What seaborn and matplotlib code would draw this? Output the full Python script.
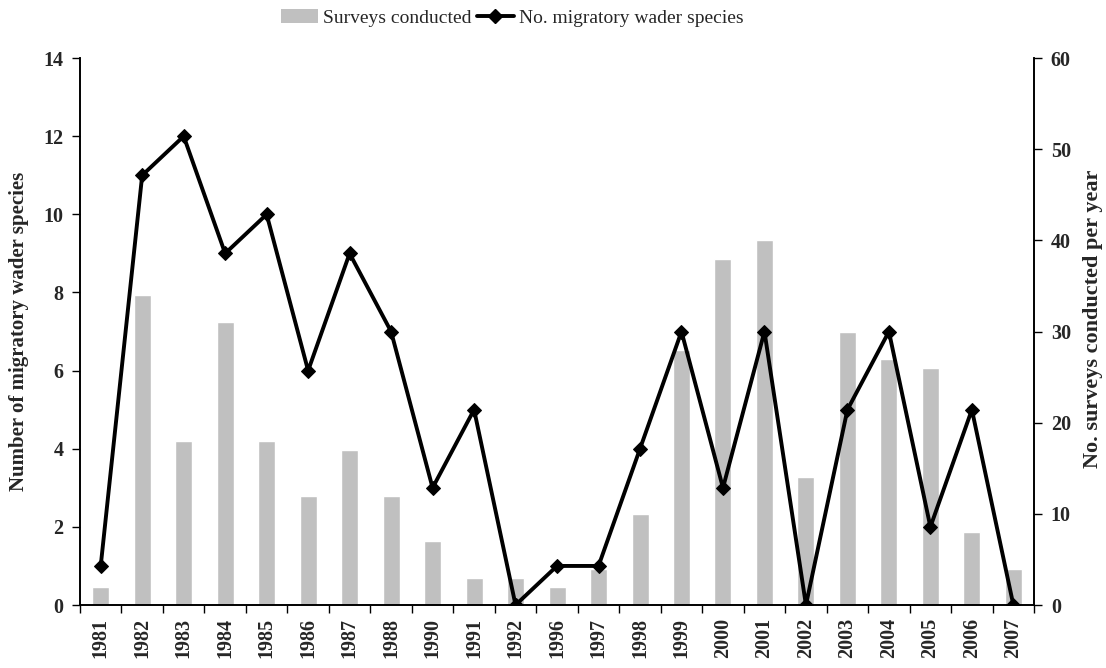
import matplotlib
matplotlib.use("Agg")
import matplotlib.pyplot as plt
import numpy as np
import pandas as pd
import seaborn as sns
from matplotlib.lines import Line2D
from matplotlib.patches import Patch

years = ["1981", "1982", "1983", "1984", "1985", "1986", "1987", "1988", "1990",
         "1991", "1992", "1996", "1997", "1998", "1999", "2000", "2001", "2002",
         "2003", "2004", "2005", "2006", "2007"]
surveys = [2, 34, 18, 31, 18, 12, 17, 12, 7, 3, 3, 2, 4, 10, 28, 38, 40, 14,
           30, 27, 26, 8, 4]
species = [1, 11, 12, 9, 10, 6, 9, 7, 3, 5, 0, 1, 1, 4, 7, 3, 7, 0, 5, 7, 2, 5, 0]

BAR_GREY = "#c0c0c0"


def main():
    sns.set_theme(style="white")
    plt.rcParams["font.family"] = ["Liberation Serif", "DejaVu Serif"]

    df = pd.DataFrame({"year": years, "surveys": surveys, "species": species})
    df["pos"] = np.arange(len(df))

    fig = plt.figure(figsize=(11.06, 6.68), dpi=100)
    ax = fig.add_axes([0.0723, 0.0943, 0.8627, 0.8187])
    ax2 = ax.twinx()

    # bars on the right axis (surveys)
    sns.barplot(data=df, x="year", y="surveys", order=years, color=BAR_GREY,
                width=0.41, saturation=1, ax=ax2)
    # line on the left axis (species)
    sns.lineplot(data=df, x="pos", y="species", color="black", linewidth=2.8,
                 marker="D", markersize=7.5, markeredgecolor="black", ax=ax)

    ax.set_zorder(ax2.get_zorder() + 1)
    ax.patch.set_visible(False)

    ax.set_xlim(-0.5, len(years) - 0.5)
    ax2.set_xlim(-0.5, len(years) - 0.5)
    ax.set_ylim(0, 14)
    ax2.set_ylim(0, 60)
    ax.set_yticks(range(0, 15, 2))
    ax2.set_yticks(range(0, 61, 10))

    ax.set_xticks(np.arange(len(years)))
    ax.set_xticklabels(years, rotation=90, fontweight="bold", fontsize=14.5)
    ax.set_xticks(np.arange(-0.5, len(years), 1), minor=True)
    ax.tick_params(axis="x", which="major", length=0, pad=9)
    ax.tick_params(axis="x", which="minor", length=6, width=1, direction="out",
                   bottom=True, color="black")
    ax2.tick_params(axis="x", which="both", length=0, labelbottom=False)
    ax2.set_xlabel("")

    ax.tick_params(axis="y", length=6, width=1, direction="out", left=True,
                   labelsize=14.5, color="black", pad=6)
    ax2.tick_params(axis="y", length=6, width=1, direction="out", right=True,
                    labelsize=14.5, color="black", pad=6)
    for lab in ax.get_yticklabels() + ax2.get_yticklabels():
        lab.set_fontweight("bold")

    ax.set_xlabel("")
    ax.set_ylabel("Number of migratory wader species", fontweight="bold",
                  fontsize=15, labelpad=10)
    ax2.set_ylabel("No. surveys conducted per year", fontweight="bold",
                   fontsize=16)
    ax2.yaxis.set_label_coords(1.051, 0.523)

    for a in (ax, ax2):
        a.spines["top"].set_visible(False)
        for s in ("left", "right", "bottom"):
            a.spines[s].set_color("black")
            a.spines[s].set_linewidth(1.2)
        a.grid(False)

    handles = [
        Patch(facecolor=BAR_GREY, edgecolor="none", label="Surveys conducted"),
        Line2D([0], [0], color="black", linewidth=2.8, marker="D", markersize=7,
               label="No. migratory wader species"),
    ]
    fig.legend(handles=handles, loc="upper center", bbox_to_anchor=(0.463, 1.012),
               ncol=2, frameon=False, fontsize=14, handlelength=1.9,
               handletextpad=0.25, columnspacing=0.3)

    fig.savefig("out.png", dpi=100)
    plt.close(fig)


if __name__ == "__main__":
    main()
